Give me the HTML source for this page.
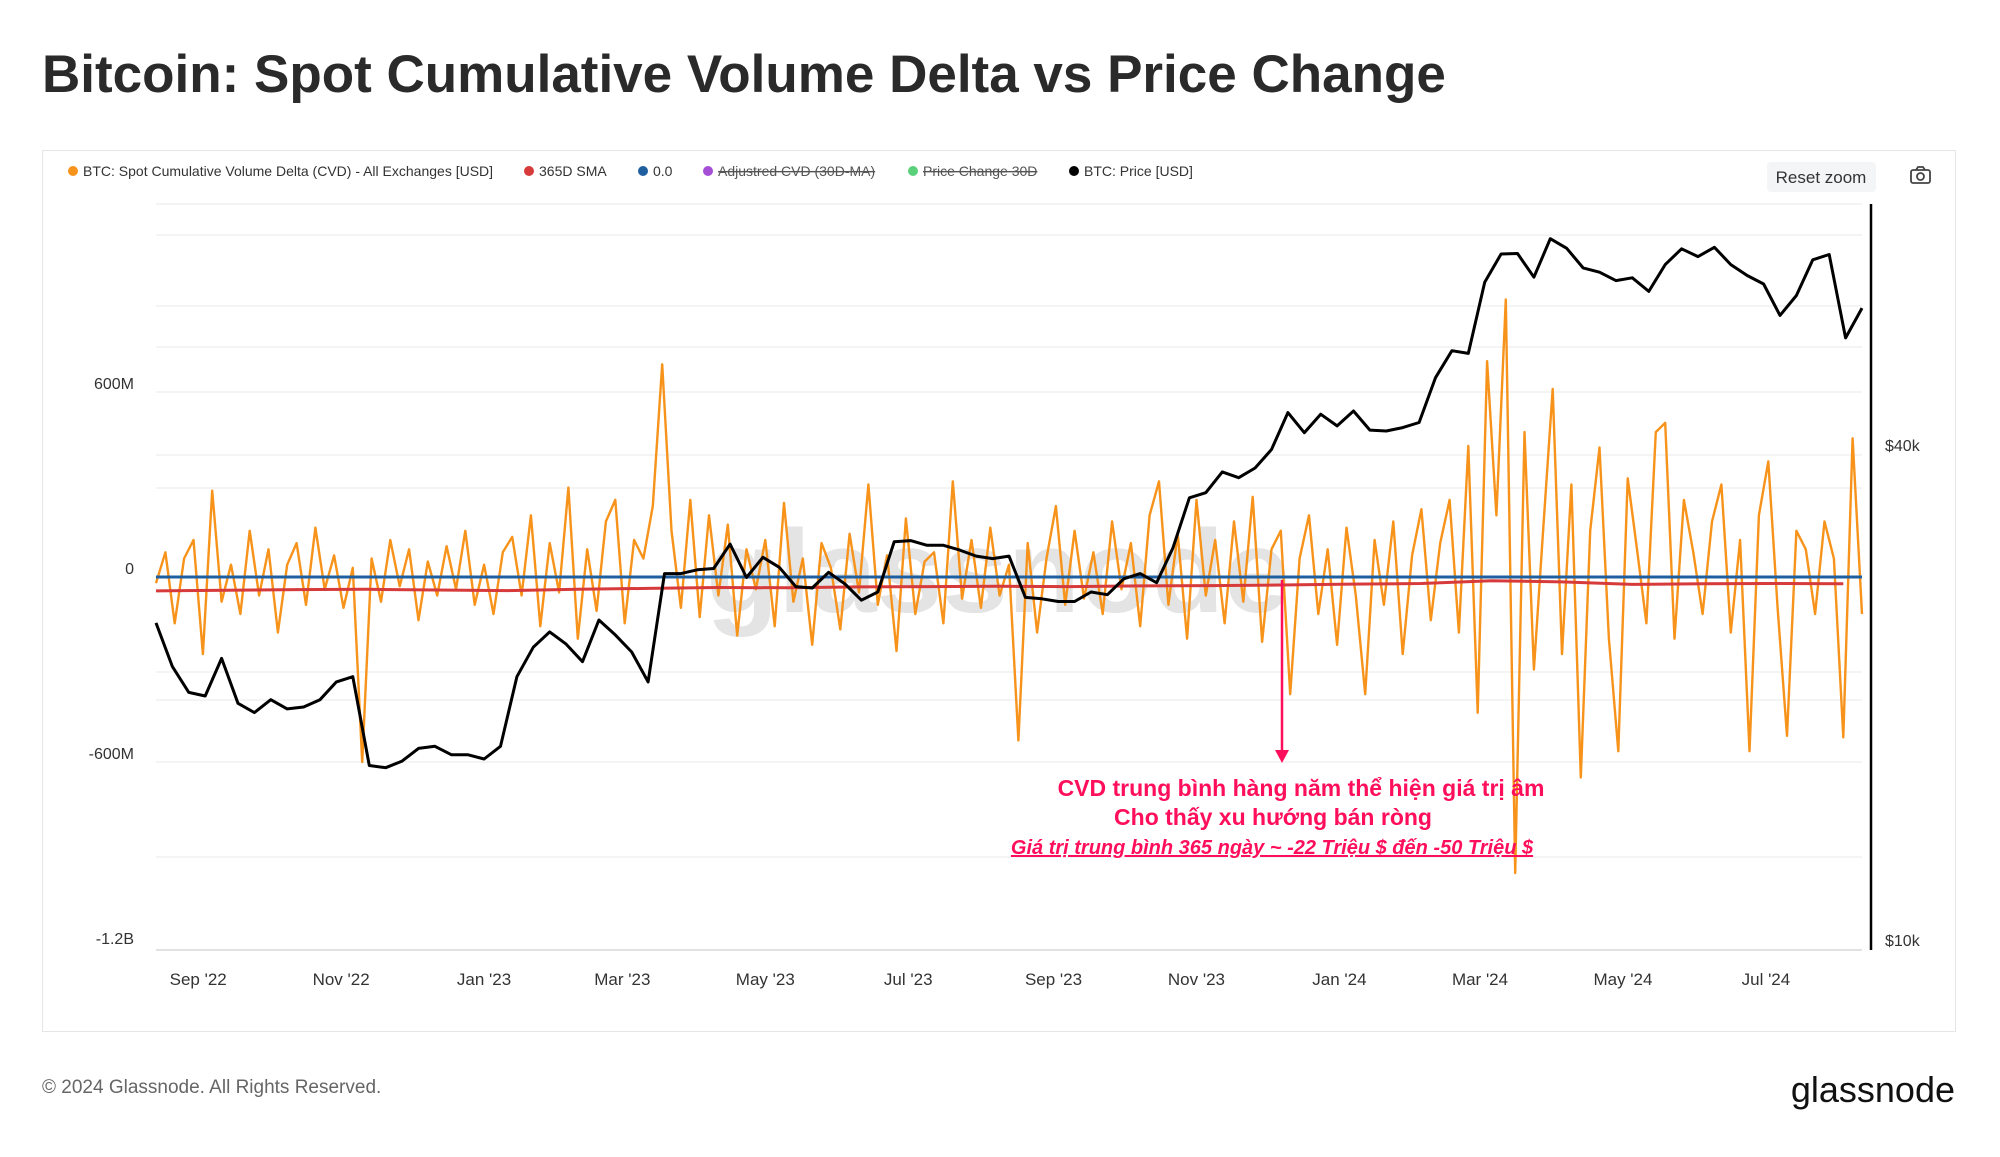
<!DOCTYPE html>
<html><head><meta charset="utf-8">
<style>
body{margin:0;background:#fff;width:2000px;height:1152px;overflow:hidden;font-family:"Liberation Sans","Noto Sans CJK SC",sans-serif;}
svg text{font-family:"Liberation Sans","Noto Sans CJK SC",sans-serif;}
</style></head>
<body>
<svg id="chart" width="2000" height="1152" viewBox="0 0 2000 1152">
<text x="42" y="92" font-size="53" fill="#2a2a2a" font-weight="bold">Bitcoin: Spot Cumulative Volume Delta vs Price Change</text>
<rect x="42.5" y="150.5" width="1913" height="881" fill="none" stroke="#e6e6e6"/>
<g id="legend" font-size="14" fill="#333">
 <g><circle cx="73" cy="171" r="5" fill="#f7931a"/><text x="83" y="176">BTC: Spot Cumulative Volume Delta (CVD) - All Exchanges [USD]</text></g>
 <g><circle cx="529" cy="171" r="5" fill="#d63a3a"/><text x="539" y="176">365D SMA</text></g>
 <g><circle cx="643" cy="171" r="5" fill="#1f5fa0"/><text x="653" y="176">0.0</text></g>
 <g><circle cx="708" cy="171" r="5" fill="#a64fd6"/><text x="718" y="176" text-decoration="line-through" fill="#555">Adjustred CVD (30D-MA)</text></g>
 <g><circle cx="913" cy="171" r="5" fill="#5bd07a"/><text x="923" y="176" text-decoration="line-through" fill="#555">Price Change 30D</text></g>
 <g><circle cx="1074" cy="171" r="5" fill="#000"/><text x="1084" y="176">BTC: Price [USD]</text></g>
</g>
<g><rect x="1767" y="162" width="109" height="30" rx="4" fill="#f4f5f6"/><text x="1821" y="183" font-size="17" text-anchor="middle" fill="#333">Reset zoom</text></g>
<g stroke="#444" stroke-width="1.8" fill="none"><rect x="1911" y="170" width="19" height="13" rx="2"/><circle cx="1920.5" cy="176.5" r="3.5"/><path d="M1916 170 l2 -3 h5 l2 3"/></g>
<g id="grid"></g>
<text x="998" y="612" font-size="118" fill="#e4e4e4" text-anchor="middle" font-weight="bold">glassnode</text>
<g id="axes"></g>
<g id="series"></g>
<line x1="1871" y1="204" x2="1871" y2="950" stroke="#000" stroke-width="2.5"/>
<text x="1885" y="451" font-size="16" fill="#333">$40k</text>
<text x="1885" y="946" font-size="16" fill="#333">$10k</text>
<g fill="#ff0f5b">
 <line x1="1282" y1="580" x2="1282" y2="752" stroke="#ff0f5b" stroke-width="2.5"/>
 <path d="M1275 750 L1289 750 L1282 763 Z"/>
 <text x="1301" y="796" font-size="23" font-weight="bold" text-anchor="middle">CVD trung bình hàng năm thể hiện giá trị âm</text>
 <text x="1273" y="825" font-size="23" font-weight="bold" text-anchor="middle">Cho thấy xu hướng bán ròng</text>
 <text x="1272" y="854" font-size="20" font-weight="bold" font-style="italic" text-decoration="underline" text-anchor="middle">Giá trị trung bình 365 ngày ~ -22 Triệu $ đến -50 Triệu $</text>
</g>
<text x="42" y="1093" font-size="19" fill="#666">© 2024 Glassnode. All Rights Reserved.</text>
<text x="1955" y="1102" font-size="36" fill="#111" text-anchor="end">glassnode</text>
</svg>
<script>
const startDate = "2022-08-14";
const cvdStepDays = 4;
const cvdValuesM = [
-20,80,-150,60,120,-250,280,-80,40,-120,
150,-60,90,-180,40,110,-90,160,-40,70,
-100,30,-600,60,-80,120,-30,90,-140,50,
-60,100,-40,150,-90,40,-120,80,130,-60,
200,-160,110,-50,290,-200,90,-110,180,250,
-150,120,60,230,690,150,-100,250,-130,200,
-60,170,-190,90,-40,120,-160,240,-80,60,
-220,110,30,-170,140,-50,300,-90,70,-240,
190,-120,50,80,-150,310,-70,120,-100,160,
-60,40,-530,110,-180,60,230,-90,150,-70,
80,-120,180,-40,110,-160,200,310,-90,140,
-200,250,-60,120,-150,180,-80,260,-210,90,
150,-380,60,200,-120,90,-220,160,-60,-380,
120,-90,180,-250,70,220,-140,110,250,-180,
425,-440,700,200,900,-960,470,-300,160,610,
-250,300,-650,150,420,-200,-565,320,90,-150,
470,500,-200,250,80,-120,180,300,-180,120,
-565,200,375,-100,-515,150,90,-120,180,60,
-520,450,-120];
const smaStepDays = 30;
const smaValuesM = [-45,-43,-41,-40,-42,-44,-40,-37,-34,-35,-32,-31,-30,-31,-29,-28,-26,-23,-21,-12,-16,-24,-22,-21,-22];
const priceStepDays = 7;
const priceK = [24.3,21.5,20.0,19.8,22.0,19.4,18.9,19.6,19.1,19.2,19.6,20.6,20.9,16.3,16.2,16.5,17.1,17.2,16.8,16.8,
16.6,17.2,20.9,22.7,23.7,22.9,21.8,24.5,23.5,22.4,20.6,27.9,27.9,28.2,28.3,30.3,27.6,29.2,28.4,26.9,
26.8,28.0,27.1,25.9,26.5,30.5,30.6,30.2,30.2,29.8,29.3,29.1,29.3,26.1,26.0,25.8,25.8,26.5,26.3,27.5,
27.9,27.2,30.0,34.5,35.0,37.1,36.5,37.5,39.5,43.8,41.4,43.6,42.2,44.0,41.7,41.6,42.0,42.6,48.3,52.1,
51.7,63.1,68.3,68.4,64.0,71.3,69.4,65.7,64.9,63.4,63.9,61.5,66.3,69.3,67.8,69.6,66.3,64.3,62.8,57.5,
60.8,67.2,68.2,54.0,58.7];
const leftTickLabels = ["600M","0","-600M","-1.2B"];
const leftTickValuesM = [600,0,-600,-1200];
const xTickLabels = ["Sep '22","Nov '22","Jan '23","Mar '23","May '23","Jul '23","Sep '23","Nov '23","Jan '24","Mar '24","May '24","Jul '24"];
const xTickDates = ["2022-09-01","2022-11-01","2023-01-01","2023-03-01","2023-05-01","2023-07-01","2023-09-01","2023-11-01","2024-01-01","2024-03-01","2024-05-01","2024-07-01"];

const NS="http://www.w3.org/2000/svg";
const X0=156, X1=1862, TOTAL_DAYS=728;
const t0=Date.parse(startDate);
function dayOf(s){return (Date.parse(s)-t0)/86400000;}
function xDay(d){return X0+d*(X1-X0)/TOTAL_DAYS;}
function yLeft(m){return 577-m*185/600;}
function yPrice(k){return 445-Math.log10(k/40)*822;}
function mk(tag,attrs,parent){const e=document.createElementNS(NS,tag);for(const k in attrs)e.setAttribute(k,attrs[k]);parent.appendChild(e);return e;}

const grid=document.getElementById('grid');
[204,235,306,347,392,455,488,672,700,762,857,950].forEach(y=>{
 const l=mk('line',{x1:156,x2:1862,y1:y,y2:y,stroke:'#f0f0f0','stroke-width':1.5},grid);
 
 
});
const axes=document.getElementById('axes');
const base=mk('line',{x1:156,x2:1862,y1:950,y2:950,stroke:'#dcdcdc','stroke-width':1.5},axes);


leftTickLabels.forEach((lab,i)=>{
 const t=mk('text',{x:134,y:yLeft(leftTickValuesM[i])-3,'font-size':16,fill:'#333','text-anchor':'end'},axes);
 t.textContent=lab;
 
 
});
xTickLabels.forEach((lab,i)=>{
 const t=mk('text',{x:xDay(dayOf(xTickDates[i])),y:985,'font-size':17,fill:'#333','text-anchor':'middle'},axes);
 t.textContent=lab;
 
 
});

const series=document.getElementById('series');
function poly(pts,color,w,name){
 const p=mk('polyline',{points:pts.map(p=>p[0].toFixed(1)+','+p[1].toFixed(1)).join(' '),fill:'none',stroke:color,'stroke-width':w,'stroke-linejoin':'round'},series);
 
 
}
poly(cvdValuesM.map((v,i)=>[xDay(i*cvdStepDays),yLeft(v)]),'#f7931a',2.4,'cvd-line');
const z=mk('line',{x1:156,x2:1862,y1:yLeft(0),y2:yLeft(0),stroke:'#1f5fa0','stroke-width':3},series);


poly(smaValuesM.map((v,i)=>[xDay(Math.min(i*smaStepDays,TOTAL_DAYS)),yLeft(v)]),'#d63a3a',3,'sma-365d-line');
poly(priceK.map((v,i)=>[xDay(i*priceStepDays),yPrice(v)]),'#000',3,'btc-price-line');
</script>
</body></html>
